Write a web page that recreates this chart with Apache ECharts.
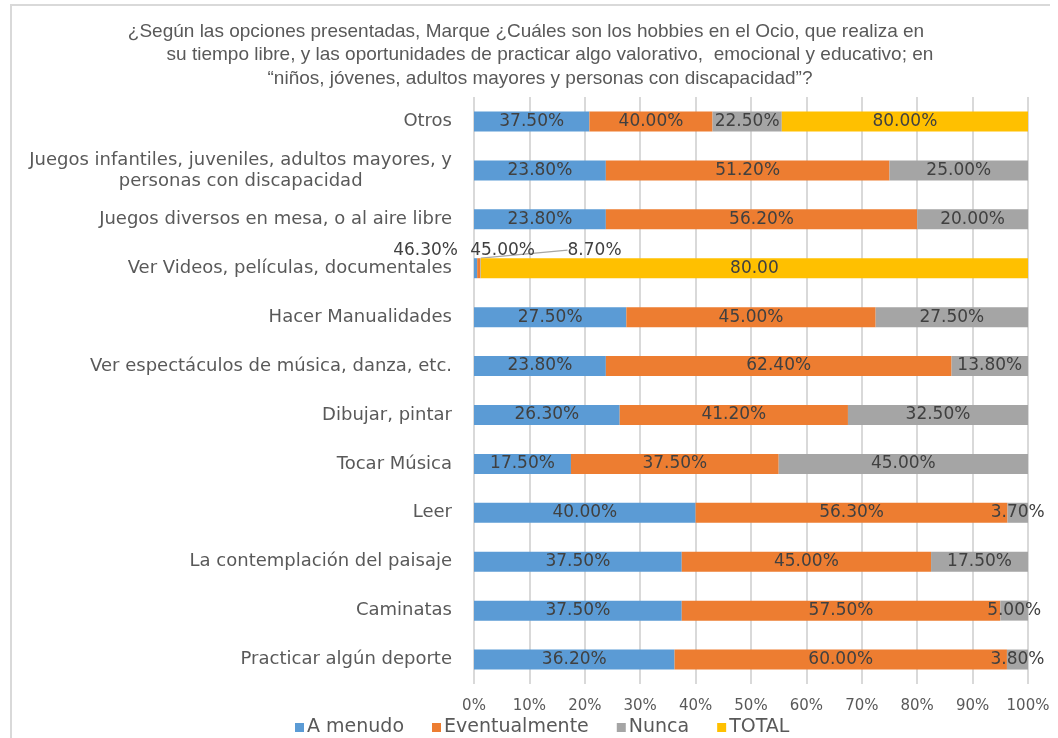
<!DOCTYPE html>
<html>
<head>
<meta charset="utf-8">
<script src="https://cdn.jsdelivr.net/npm/echarts@6/dist/echarts.min.js"></script>
<style>
  html, body { margin: 0; padding: 0; background: #ffffff; }
  #chart { width: 1058px; height: 738px; }
</style>
</head>
<body>
<div id="chart"></div>
<script>
// Activities, listed top to bottom
const categories = [
  'Otros',
  'Juegos infantiles, juveniles, adultos mayores, y\npersonas con discapacidad',
  'Juegos diversos en mesa, o al aire libre',
  'Ver Videos, películas, documentales',
  'Hacer Manualidades',
  'Ver espectáculos de música, danza, etc.',
  'Dibujar, pintar',
  'Tocar Música',
  'Leer',
  'La contemplación del paisaje',
  'Caminatas',
  'Practicar algún deporte'
];

// Answer shares per activity (as fractions)
const aMenudo       = [0.375, 0.238, 0.238, 0.463, 0.275, 0.238, 0.263, 0.175, 0.400, 0.375, 0.375, 0.362];
const eventualmente = [0.400, 0.512, 0.562, 0.450, 0.450, 0.624, 0.412, 0.375, 0.563, 0.450, 0.575, 0.600];
const nunca         = [0.225, 0.250, 0.200, 0.087, 0.275, 0.138, 0.325, 0.450, 0.037, 0.175, 0.050, 0.038];
const total         = [0.80, null, null, 80, null, null, null, null, null, null, null, null];

const seriesNames = ['A menudo', 'Eventualmente', 'Nunca', 'TOTAL'];
const seriesColors = ['#5B9BD5', '#ED7D31', '#A5A5A5', '#FFC000'];
const tickLabels = ['0%', '10%', '20%', '30%', '40%', '50%', '60%', '70%', '80%', '90%', '100%'];

const titleLines = [
  '¿Según las opciones presentadas, Marque ¿Cuáles son los hobbies en el Ocio, que realiza en',
  'su tiempo libre, y las oportunidades de practicar algo valorativo,  emocional y educativo; en',
  '“niños, jóvenes, adultos mayores y personas con discapacidad”?'
];

// Row of the stacked chart whose small segments get their labels pulled outside
const videosRow = 3;

// 100% stacking: each segment is its share of the row sum
const rawSeries = [aMenudo, eventualmente, nunca, total];
const rowSums = categories.map((_, i) =>
  rawSeries.reduce((s, arr) => s + (arr[i] == null ? 0 : arr[i]), 0));

function pct(v) { return (v * 100).toFixed(2) + '%'; }
function totalLabel(v) { return v >= 1 ? v.toFixed(2) : pct(v); }

const labelFont = { fontFamily: 'DejaVu Sans', fontSize: 17, color: '#404040' };
const catFont = { fontFamily: 'DejaVu Sans', fontSize: 18, color: '#595959', lineHeight: 21 };

function buildData(arr, sIdx) {
  return arr.map((v, i) => {
    if (v == null) return null;
    const item = { value: v / rowSums[i] * 100, raw: v };
    if (i === videosRow && sIdx === 0) {
      item.label = { position: [-16, -8], align: 'right', verticalAlign: 'middle' };
    } else if (i === videosRow && sIdx === 1) {
      item.label = { position: [-7, -8], align: 'left', verticalAlign: 'middle' };
    } else if (i === videosRow && sIdx === 2) {
      item.labelLine = { show: true, lineStyle: { color: '#A6A6A6', width: 1.3 } };
    }
    return item;
  });
}

const series = rawSeries.map((arr, sIdx) => ({
  name: seriesNames[sIdx],
  type: 'bar',
  stack: 'all',
  barWidth: 20,
  itemStyle: { color: seriesColors[sIdx] },
  label: Object.assign({
    show: true,
    position: 'inside',
    formatter: p => {
      const raw = p.data.raw;
      return sIdx === 3 ? totalLabel(raw) : pct(raw);
    }
  }, labelFont),
  labelLayout: sIdx === 2 ? function (p) {
    if (p.dataIndex === videosRow) return { dx: 114, dy: -18 };
  } : undefined,
  data: buildData(arr, sIdx)
}));

const titleCenters = [526, 550, 540];
const titles = titleLines.map((t, i) => ({
  text: t,
  left: titleCenters[i],
  top: 20 + i * 23.5,
  textAlign: 'center',
  padding: 0,
  textStyle: {
    fontFamily: 'Liberation Sans',
    fontSize: 19,
    fontWeight: 'normal',
    color: '#595959',
    lineHeight: 23
  }
}));

const chart = echarts.init(document.getElementById('chart'), null, { renderer: 'canvas' });
chart.setOption({
  animation: false,
  backgroundColor: '#ffffff',
  title: titles,
  graphic: [{
    type: 'polyline',
    silent: true,
    z: -10,
    shape: { points: [[1050, 5], [11, 5], [11, 740]] },
    style: { fill: null, stroke: '#D9D9D9', lineWidth: 2 }
  }],
  legend: {
    left: 290,
    top: 713,
    icon: 'rect',
    itemWidth: 9,
    itemHeight: 9,
    itemGap: 28,
    textStyle: { fontFamily: 'DejaVu Sans', fontSize: 19, color: '#595959', padding: [0, 0, 0, -2] },
    data: seriesNames
  },
  grid: { left: 474, right: 30, top: 97, bottom: 54, containLabel: false },
  xAxis: {
    type: 'value',
    min: 0,
    max: 100,
    interval: 10,
    axisLine: { show: false },
    axisTick: { show: false },
    axisLabel: {
      margin: 15,
      fontFamily: 'DejaVu Sans',
      fontSize: 15,
      color: '#595959',
      formatter: v => tickLabels[Math.round(v / 10)]
    },
    splitLine: { show: true, lineStyle: { color: '#D9D9D9', width: 2 } }
  },
  yAxis: {
    type: 'category',
    inverse: true,
    data: categories,
    axisLine: { show: false },
    axisTick: { show: false },
    axisLabel: Object.assign({
      margin: 22,
      align: 'right',
      // wrapped labels: first line flush right, following lines centred under it
      formatter: v => {
        const parts = v.split('\n');
        if (parts.length === 1) return v;
        return '{first|' + parts[0] + '}\n' +
          parts.slice(1).map(s => '{rest|' + s + '}').join('\n');
      },
      rich: {
        first: Object.assign({ align: 'right' }, catFont),
        rest: Object.assign({ align: 'center' }, catFont)
      }
    }, catFont)
  },
  series: series
});
</script>
</body>
</html>
